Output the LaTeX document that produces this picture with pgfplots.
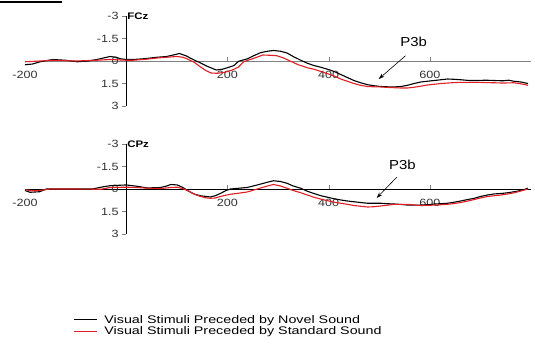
\documentclass[border=0pt]{standalone}
\usepackage{fontspec}
\setmainfont{Liberation Sans}
\usepackage{graphicx}
\usepackage{pgfplots}
\pgfplotsset{compat=1.18}
\usetikzlibrary{arrows.meta}
\definecolor{erpred}{RGB}{225,30,35}
\newcommand\hs[1]{\scalebox{1.2}[1]{#1}}
\newcommand\hl[1]{\scalebox{1.3}[1]{#1}}
\pgfplotsset{erp/.style={
  scale only axis, width=506pt, height=90pt,
  xmin=-200, xmax=800, ymin=-3, ymax=3, y dir=reverse,
  axis lines=middle, axis line style={-, line width=0.6pt},
  xtick={200,400,600}, xticklabels={\hs{200},\hs{400},\hs{600}},
  extra x ticks={-200}, extra x tick labels={\hs{-200}},
  extra x tick style={major tick length=0pt, xticklabel style={yshift=-4pt}},
  ytick={-3,-1.5,0,1.5,3}, yticklabels={\hs{-3},\hs{-1.5},\hs{0},\hs{1.5},\hs{3}},
  tick align=outside, major tick length=4pt,
  hide obscured x ticks=false, hide obscured y ticks=false,
  tick label style={font=\fontsize{10.5}{12}\selectfont, text=black!80},
  xticklabel style={yshift=-3pt},
  clip=false,
  every axis plot/.append style={line width=1.1pt, mark=none},
}}
\begin{document}
\begin{tikzpicture}
\useasboundingbox (0,0) rectangle (535pt,343pt);
\draw[line width=1.5pt] (0,341pt) -- (62pt,341pt);
% ---------------- FCz ----------------
\begin{axis}[erp, at={(25pt,237pt)}, anchor=south west,
  x axis line style={black!50}, xtick style={black!50}]
\addplot[black] coordinates {
(-200,0.25) (-185,0.2) (-170,0.05) (-145,-0.1) (-120,-0.05) (-97,0.05) (-75,0) (-58,-0.1) (-45,-0.2) (-32,-0.3) (-20,-0.25) (-12,-0.15) (0,-0.1) (14,-0.1) (35,-0.15) (61,-0.25) (80,-0.3) (93,-0.4) (105,-0.5) (118,-0.35) (132,-0.1) (147,0.13) (160,0.35) (178,0.6) (190,0.55) (200,0.45) (213,0.3) (222,0.02) (240,-0.15) (252,-0.35) (265,-0.55) (279,-0.65) (291,-0.7) (305,-0.65) (318,-0.53) (330,-0.3) (345,-0.05) (358,0.15) (371,0.3) (385,0.42) (398,0.55) (411,0.7) (424,0.9) (437,1.1) (450,1.3) (463,1.45) (477,1.58) (490,1.65) (503,1.7) (516,1.72) (530,1.73) (543,1.7) (556,1.62) (569,1.5) (582,1.4) (595,1.35) (609,1.3) (622,1.25) (635,1.2) (648,1.22) (661,1.25) (678,1.3) (695,1.3) (710,1.28) (727,1.3) (745,1.32) (756,1.28) (766,1.35) (780,1.4) (794,1.5)
};
\addplot[color=erpred] coordinates {
(-200,0.05) (-170,0.0) (-145,-0.05) (-100,0) (-58,-0.05) (-32,-0.1) (0,-0.05) (14,-0.05) (40,-0.12) (61,-0.2) (80,-0.25) (100,-0.3) (112,-0.25) (120,-0.15) (135,0.1) (147,0.4) (158,0.65) (168,0.8) (180,0.82) (195,0.75) (210,0.6) (222,0.4) (232,0.05) (245,-0.1) (258,-0.25) (270,-0.4) (285,-0.38) (298,-0.35) (311,-0.2) (325,0.02) (340,0.25) (358,0.45) (371,0.55) (385,0.7) (398,0.85) (411,1.0) (424,1.2) (437,1.35) (450,1.5) (463,1.62) (477,1.7) (490,1.72) (503,1.73) (516,1.76) (530,1.78) (543,1.8) (556,1.8) (569,1.75) (582,1.68) (595,1.6) (609,1.55) (622,1.5) (635,1.47) (648,1.44) (661,1.42) (678,1.42) (695,1.42) (710,1.44) (727,1.45) (745,1.47) (766,1.45) (780,1.52) (794,1.62)
};
\node[font=\fontsize{9.5}{11}\selectfont\bfseries, anchor=west, inner sep=1pt] at (axis cs:0,-3) {\hs{FCz}};
\node[font=\fontsize{13}{15}\selectfont] at (axis cs:568,-1.27) {\scalebox{1.15}[1]{P3b}};
\draw[-{Stealth[length=6pt,width=4pt]}, line width=0.6pt] (axis cs:552,-0.35) -- (axis cs:499,1.2);
\end{axis}
% ---------------- CPz ----------------
\begin{axis}[erp, at={(25pt,109pt)}, anchor=south west,
  legend style={at={(axis description cs:0.09,-0.86)}, anchor=north west, draw=none, fill=none,
    font=\fontsize{11}{13}\selectfont, row sep=-1pt, column sep=5pt, nodes={inner sep=1.5pt}},
  legend cell align=left,
  legend image code/.code={\draw[#1, line width=1.2pt] (0pt,0pt) -- (23pt,0pt);}]
\addplot[color=black] coordinates {
(-200,0.1) (-190,0.22) (-171,0.18) (-158,0) (-119,0) (-67,0) (-45,-0.15) (-32,-0.22) (0,-0.27) (22,-0.18) (42,-0.07) (68,-0.1) (80,-0.2) (88,-0.3) (101,-0.27) (112,-0.1) (121,0.1) (135,0.35) (147,0.45) (166,0.53) (176,0.45) (186,0.3) (196,0.12) (206,0) (222,-0.05) (239,-0.1) (259,-0.27) (279,-0.45) (291,-0.55) (305,-0.5) (318,-0.38) (330,-0.2) (345,-0.05) (358,0.15) (371,0.3) (385,0.45) (398,0.55) (411,0.65) (424,0.73) (437,0.8) (450,0.85) (463,0.9) (477,0.95) (490,0.95) (503,0.95) (516,0.98) (530,1.0) (543,1.03) (556,1.07) (569,1.07) (582,1.07) (595,1.05) (609,1.0) (622,0.98) (635,0.95) (648,0.88) (661,0.8) (675,0.7) (688,0.62) (700,0.5) (714,0.4) (727,0.33) (741,0.3) (754,0.25) (767,0.18) (780,0.1) (794,-0.05)
};
\addlegendentry{\hl{Visual Stimuli Preceded by Novel Sound}}
\addplot[color=erpred] coordinates {
(-200,0.05) (-185,0.12) (-171,0.1) (-150,0) (-100,0) (-50,0.02) (-32,-0.1) (0,-0.12) (22,-0.1) (42,-0.05) (68,-0.03) (88,-0.1) (101,-0.12) (112,-0.02) (121,0.1) (135,0.35) (147,0.5) (156,0.58) (166,0.62) (176,0.6) (186,0.5) (196,0.42) (206,0.35) (222,0.28) (239,0.2) (259,0) (279,-0.2) (291,-0.3) (305,-0.2) (318,-0.05) (330,0.1) (345,0.25) (358,0.4) (371,0.55) (385,0.68) (398,0.78) (411,0.88) (424,0.95) (437,1.02) (450,1.1) (463,1.15) (477,1.2) (490,1.18) (503,1.13) (516,1.08) (530,1.02) (543,1.02) (556,1.02) (569,1.06) (582,1.1) (595,1.09) (609,1.07) (622,1.05) (635,1.02) (648,0.97) (661,0.9) (675,0.8) (688,0.7) (700,0.6) (714,0.5) (727,0.45) (741,0.4) (754,0.33) (767,0.25) (780,0.13) (794,0)
};
\addlegendentry{\hl{Visual Stimuli Preceded by Standard Sound}}
\node[font=\fontsize{9.5}{11}\selectfont\bfseries, anchor=west, inner sep=1pt] at (axis cs:0,-3) {\hs{CPz}};
\node[font=\fontsize{13}{15}\selectfont] at (axis cs:546,-1.6) {\scalebox{1.15}[1]{P3b}};
\draw[-{Stealth[length=6pt,width=4pt]}, line width=0.6pt] (axis cs:535,-0.8) -- (axis cs:495,0.6);
\end{axis}
\end{tikzpicture}
\end{document}
